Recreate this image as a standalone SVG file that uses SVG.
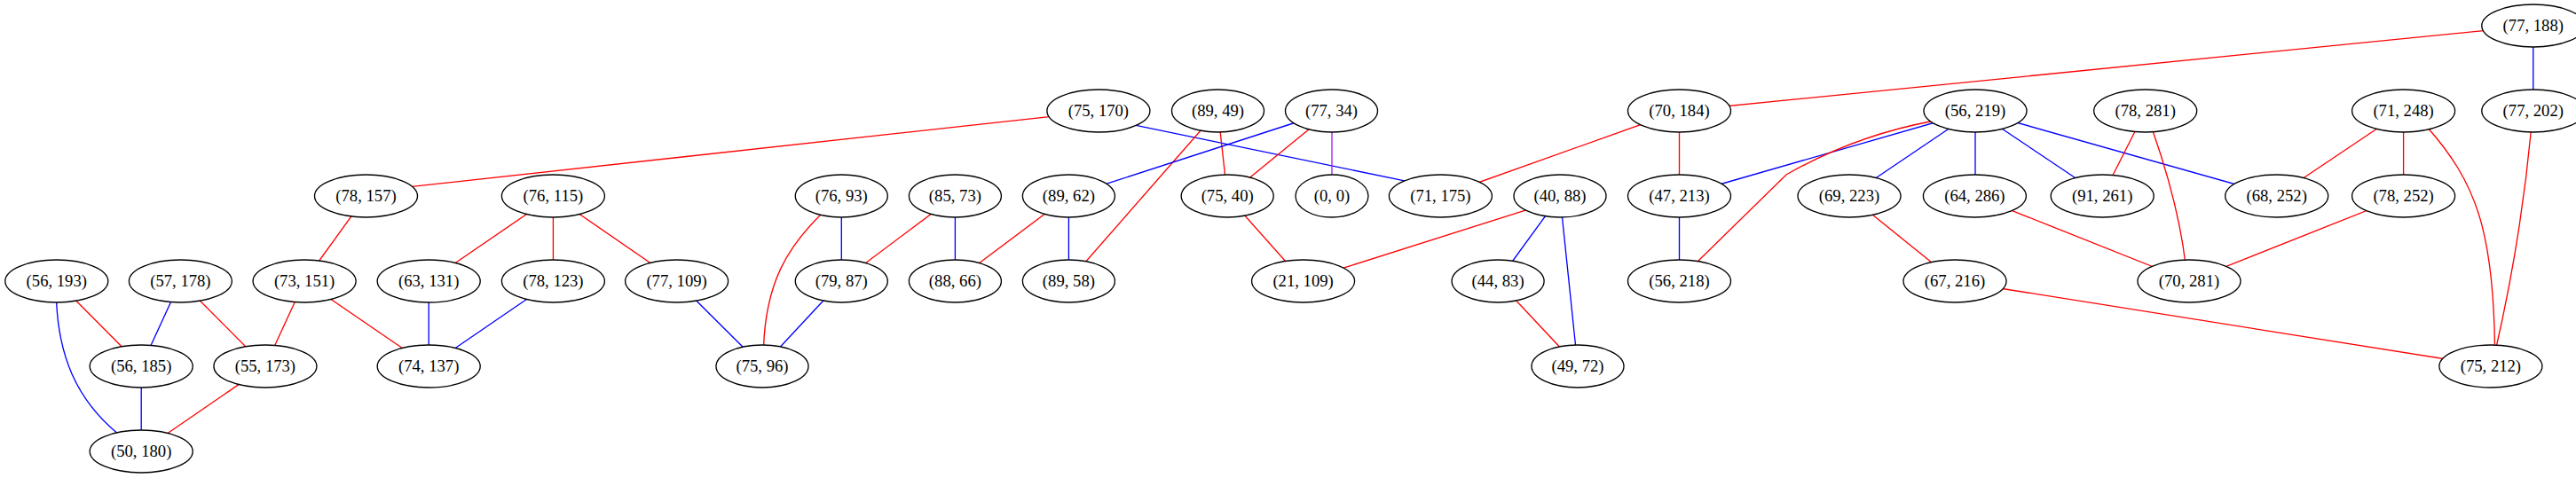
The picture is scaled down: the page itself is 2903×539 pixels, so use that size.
<svg xmlns="http://www.w3.org/2000/svg" width="2903" height="539" viewBox="0 0 2903 539">
<style>
.n ellipse{fill:#fff;stroke:#000;stroke-width:1.33}
.n text{font-family:"Liberation Serif","Times New Roman",serif;font-size:18.67px;text-anchor:middle;fill:#000}
.e line,.e path{fill:none;stroke-width:1.33}
.r{stroke:#ff0000}
.b{stroke:#0000ff}
.p{stroke:#a020f0}
</style>
<rect width="2903" height="539" fill="#fff"/>
<g id="edges" class="e">
<line class="r" x1="462" y1="210.7" x2="1184.7" y2="131.3"/>
<line class="r" x1="412.5" y1="221" x2="343.1" y2="317"/>
<line class="r" x1="623.4" y1="221" x2="483.2" y2="317"/>
<line class="r" x1="623.4" y1="221" x2="623.4" y2="317"/>
<line class="r" x1="623.4" y1="221" x2="762.6" y2="317"/>
<line class="r" x1="63.8" y1="317" x2="159.2" y2="413"/>
<path class="b" d="M63.5,338 C66,400 85,450 134,490"/>
<line class="b" x1="203.4" y1="317" x2="159.2" y2="413"/>
<line class="r" x1="203.4" y1="317" x2="298.9" y2="413"/>
<line class="r" x1="343.1" y1="317" x2="298.9" y2="413"/>
<line class="r" x1="343.1" y1="317" x2="483.2" y2="413"/>
<line class="b" x1="159.2" y1="413" x2="159.2" y2="509"/>
<line class="r" x1="298.9" y1="413" x2="159.2" y2="509"/>
<line class="b" x1="483.2" y1="317" x2="483.2" y2="413"/>
<line class="b" x1="623.4" y1="317" x2="483.2" y2="413"/>
<line class="b" x1="1277.8" y1="140.9" x2="1584" y2="204.1"/>
<line class="r" x1="1372.5" y1="125" x2="1204.4" y2="317"/>
<line class="r" x1="1372.5" y1="125" x2="1383.2" y2="221"/>
<line class="b" x1="1500.5" y1="125" x2="1204.4" y2="221"/>
<line class="r" x1="1500.5" y1="125" x2="1383.2" y2="221"/>
<line class="p" x1="1501" y1="125" x2="1501" y2="221"/>
<line class="b" x1="948.3" y1="221" x2="948.3" y2="317"/>
<path class="r" d="M926,241 C888,278 863,318 860.5,392"/>
<line class="r" x1="1076.4" y1="221" x2="948.3" y2="317"/>
<line class="b" x1="1076.4" y1="221" x2="1076.4" y2="317"/>
<line class="r" x1="1204.4" y1="221" x2="1076.4" y2="317"/>
<line class="b" x1="1204.4" y1="221" x2="1204.4" y2="317"/>
<line class="b" x1="762.6" y1="317" x2="859" y2="413"/>
<line class="b" x1="948.3" y1="317" x2="859" y2="413"/>
<line class="r" x1="1383.2" y1="221" x2="1468.6" y2="317"/>
<line class="r" x1="1892.5" y1="125" x2="1623.4" y2="221"/>
<line class="r" x1="1892.5" y1="125" x2="1892.5" y2="221"/>
<line class="r" x1="2854.8" y1="29" x2="1892.5" y2="125"/>
<line class="r" x1="1722.2" y1="236.1" x2="1509.7" y2="303.5"/>
<line class="b" x1="1758" y1="221" x2="1688.1" y2="317"/>
<line class="b" x1="1758" y1="221" x2="1778" y2="413"/>
<line class="r" x1="1688.1" y1="317" x2="1778" y2="413"/>
<line class="b" x1="1892.5" y1="221" x2="1892.5" y2="317"/>
<line class="b" x1="2226" y1="125" x2="1892.5" y2="221"/>
<path class="r" d="M2178,136.5 Q2090,153 2013,197 L1912,296"/>
<line class="b" x1="2226" y1="125" x2="2084" y2="221"/>
<line class="r" x1="2084" y1="221" x2="2203" y2="317"/>
<line class="r" x1="2203" y1="317" x2="2806.9" y2="413"/>
<line class="b" x1="2854.8" y1="29" x2="2854.8" y2="125"/>
<line class="b" x1="2226" y1="125" x2="2226" y2="221"/>
<line class="b" x1="2226" y1="125" x2="2369.2" y2="221"/>
<line class="b" x1="2226" y1="125" x2="2565.7" y2="221"/>
<line class="r" x1="2417.7" y1="125" x2="2369.2" y2="221"/>
<path class="r" d="M2425.5,146 Q2455,230 2463,298"/>
<line class="r" x1="2226" y1="221" x2="2467" y2="317"/>
<line class="r" x1="2708.6" y1="221" x2="2467" y2="317"/>
<line class="r" x1="2708.6" y1="125" x2="2565.7" y2="221"/>
<line class="r" x1="2708.6" y1="125" x2="2708.6" y2="221"/>
<path class="r" d="M2735,143 C2790,205 2810,260 2811.5,392"/>
<path class="r" d="M2852.5,146 Q2841,269 2813,392"/>
</g>
<g id="n_77_188" class="n"><ellipse cx="2854.8" cy="29" rx="58" ry="24"/><text x="2854.8" y="35">(77, 188)</text></g>
<g id="n_75_170" class="n"><ellipse cx="1237.9" cy="125" rx="58" ry="24"/><text x="1237.9" y="131">(75, 170)</text></g>
<g id="n_89_49" class="n"><ellipse cx="1372.5" cy="125" rx="52" ry="24"/><text x="1372.5" y="131">(89, 49)</text></g>
<g id="n_77_34" class="n"><ellipse cx="1500.5" cy="125" rx="52" ry="24"/><text x="1500.5" y="131">(77, 34)</text></g>
<g id="n_70_184" class="n"><ellipse cx="1892.5" cy="125" rx="58" ry="24"/><text x="1892.5" y="131">(70, 184)</text></g>
<g id="n_56_219" class="n"><ellipse cx="2226" cy="125" rx="58" ry="24"/><text x="2226" y="131">(56, 219)</text></g>
<g id="n_78_281" class="n"><ellipse cx="2417.7" cy="125" rx="58" ry="24"/><text x="2417.7" y="131">(78, 281)</text></g>
<g id="n_71_248" class="n"><ellipse cx="2708.6" cy="125" rx="58" ry="24"/><text x="2708.6" y="131">(71, 248)</text></g>
<g id="n_77_202" class="n"><ellipse cx="2854.8" cy="125" rx="58" ry="24"/><text x="2854.8" y="131">(77, 202)</text></g>
<g id="n_78_157" class="n"><ellipse cx="412.5" cy="221" rx="58" ry="24"/><text x="412.5" y="227">(78, 157)</text></g>
<g id="n_76_115" class="n"><ellipse cx="623.4" cy="221" rx="58" ry="24"/><text x="623.4" y="227">(76, 115)</text></g>
<g id="n_76_93" class="n"><ellipse cx="948.3" cy="221" rx="52" ry="24"/><text x="948.3" y="227">(76, 93)</text></g>
<g id="n_85_73" class="n"><ellipse cx="1076.4" cy="221" rx="52" ry="24"/><text x="1076.4" y="227">(85, 73)</text></g>
<g id="n_89_62" class="n"><ellipse cx="1204.4" cy="221" rx="52" ry="24"/><text x="1204.4" y="227">(89, 62)</text></g>
<g id="n_75_40" class="n"><ellipse cx="1383.2" cy="221" rx="52" ry="24"/><text x="1383.2" y="227">(75, 40)</text></g>
<g id="n_0_0" class="n"><ellipse cx="1501" cy="221" rx="41" ry="24"/><text x="1501" y="227">(0, 0)</text></g>
<g id="n_71_175" class="n"><ellipse cx="1623.4" cy="221" rx="58" ry="24"/><text x="1623.4" y="227">(71, 175)</text></g>
<g id="n_40_88" class="n"><ellipse cx="1758" cy="221" rx="52" ry="24"/><text x="1758" y="227">(40, 88)</text></g>
<g id="n_47_213" class="n"><ellipse cx="1892.5" cy="221" rx="58" ry="24"/><text x="1892.5" y="227">(47, 213)</text></g>
<g id="n_69_223" class="n"><ellipse cx="2084" cy="221" rx="58" ry="24"/><text x="2084" y="227">(69, 223)</text></g>
<g id="n_64_286" class="n"><ellipse cx="2225.4" cy="221" rx="58" ry="24"/><text x="2225.4" y="227">(64, 286)</text></g>
<g id="n_91_261" class="n"><ellipse cx="2369.2" cy="221" rx="58" ry="24"/><text x="2369.2" y="227">(91, 261)</text></g>
<g id="n_68_252" class="n"><ellipse cx="2565.7" cy="221" rx="58" ry="24"/><text x="2565.7" y="227">(68, 252)</text></g>
<g id="n_78_252" class="n"><ellipse cx="2708.6" cy="221" rx="58" ry="24"/><text x="2708.6" y="227">(78, 252)</text></g>
<g id="n_56_193" class="n"><ellipse cx="63.8" cy="317" rx="58" ry="24"/><text x="63.8" y="323">(56, 193)</text></g>
<g id="n_57_178" class="n"><ellipse cx="203.4" cy="317" rx="58" ry="24"/><text x="203.4" y="323">(57, 178)</text></g>
<g id="n_73_151" class="n"><ellipse cx="343.1" cy="317" rx="58" ry="24"/><text x="343.1" y="323">(73, 151)</text></g>
<g id="n_63_131" class="n"><ellipse cx="483.2" cy="317" rx="58" ry="24"/><text x="483.2" y="323">(63, 131)</text></g>
<g id="n_78_123" class="n"><ellipse cx="623.4" cy="317" rx="58" ry="24"/><text x="623.4" y="323">(78, 123)</text></g>
<g id="n_77_109" class="n"><ellipse cx="762.6" cy="317" rx="58" ry="24"/><text x="762.6" y="323">(77, 109)</text></g>
<g id="n_79_87" class="n"><ellipse cx="948.3" cy="317" rx="52" ry="24"/><text x="948.3" y="323">(79, 87)</text></g>
<g id="n_88_66" class="n"><ellipse cx="1076.4" cy="317" rx="52" ry="24"/><text x="1076.4" y="323">(88, 66)</text></g>
<g id="n_89_58" class="n"><ellipse cx="1204.4" cy="317" rx="52" ry="24"/><text x="1204.4" y="323">(89, 58)</text></g>
<g id="n_21_109" class="n"><ellipse cx="1468.6" cy="317" rx="58" ry="24"/><text x="1468.6" y="323">(21, 109)</text></g>
<g id="n_44_83" class="n"><ellipse cx="1688.1" cy="317" rx="52" ry="24"/><text x="1688.1" y="323">(44, 83)</text></g>
<g id="n_56_218" class="n"><ellipse cx="1892.5" cy="317" rx="58" ry="24"/><text x="1892.5" y="323">(56, 218)</text></g>
<g id="n_67_216" class="n"><ellipse cx="2203" cy="317" rx="58" ry="24"/><text x="2203" y="323">(67, 216)</text></g>
<g id="n_70_281" class="n"><ellipse cx="2467" cy="317" rx="58" ry="24"/><text x="2467" y="323">(70, 281)</text></g>
<g id="n_56_185" class="n"><ellipse cx="159.2" cy="413" rx="58" ry="24"/><text x="159.2" y="419">(56, 185)</text></g>
<g id="n_55_173" class="n"><ellipse cx="298.9" cy="413" rx="58" ry="24"/><text x="298.9" y="419">(55, 173)</text></g>
<g id="n_74_137" class="n"><ellipse cx="483.2" cy="413" rx="58" ry="24"/><text x="483.2" y="419">(74, 137)</text></g>
<g id="n_75_96" class="n"><ellipse cx="859" cy="413" rx="52" ry="24"/><text x="859" y="419">(75, 96)</text></g>
<g id="n_49_72" class="n"><ellipse cx="1778" cy="413" rx="52" ry="24"/><text x="1778" y="419">(49, 72)</text></g>
<g id="n_75_212" class="n"><ellipse cx="2806.9" cy="413" rx="58" ry="24"/><text x="2806.9" y="419">(75, 212)</text></g>
<g id="n_50_180" class="n"><ellipse cx="159.2" cy="509" rx="58" ry="24"/><text x="159.2" y="515">(50, 180)</text></g>
</svg>
